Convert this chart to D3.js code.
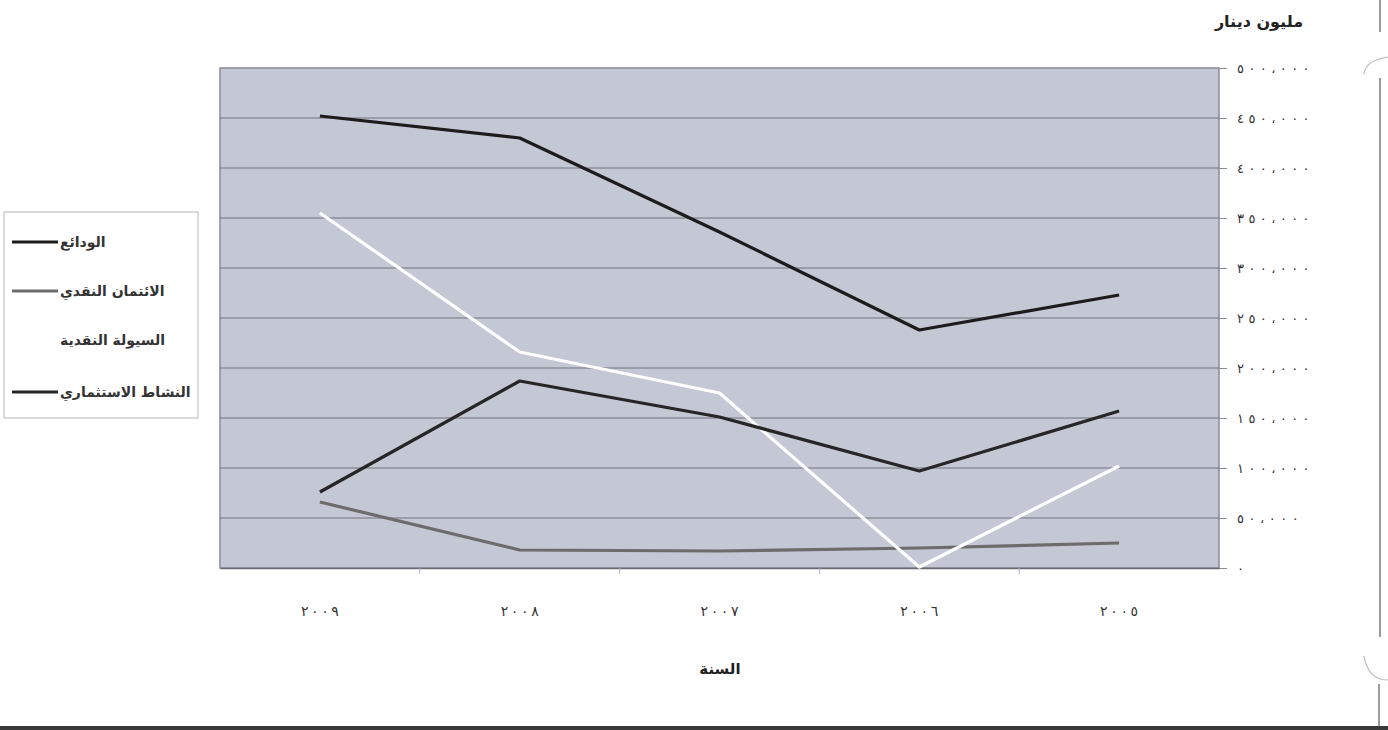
<!DOCTYPE html>
<html><head><meta charset="utf-8">
<script src="https://cdn.jsdelivr.net/npm/d3@7"></script>
<style>html,body{margin:0;padding:0;background:#fff;}svg{display:block;}</style>
</head><body>
<svg id="c" width="1388" height="730"></svg>
<script>
const years = [2009, 2008, 2007, 2006, 2005];
const seriesNames = ["الودائع", "الائتمان النقدي", "السيولة النقدية", "النشاط الاستثماري"];
const deposits = [452000, 430000, 336000, 238000, 273000];
const credit = [66000, 18000, 17000, 20000, 25000];
const liquidity = [355000, 216000, 175000, 1000, 102000];
const investment = [76000, 187000, 151000, 97000, 157000];
const yTicks = [0, 50000, 100000, 150000, 200000, 250000, 300000, 350000, 400000, 450000, 500000];
const yTitle = "مليون دينار";
const xTitle = "السنة";

const colors = ["#1c1c1c", "#6c6c6c", "#ffffff", "#262626"];
const allSeries = [deposits, credit, liquidity, investment];

const svg = d3.select("#c");
const L = 220, R = 1219, T = 68, B = 568;

const loc = d3.formatLocale({decimal: "٫", thousands: "،", grouping: [3], currency: ["", ""],
  numerals: ["٠","١","٢","٣","٤","٥","٦","٧","٨","٩"]});
const fmt = loc.format(",d");
const yearFmt = loc.format("d");

const x = d3.scaleBand().domain(years).range([L, R]);
const y = d3.scaleLinear().domain([0, 500000]).range([B, T]);

// scan artifacts on the right edge
const art = svg.append("g").attr("fill", "none").attr("stroke", "#9a9aa2").attr("stroke-width", 2);
art.append("path").attr("d", "M1380,0 L1380,32");
art.append("path").attr("d", "M1364,74 Q1366,60 1388,57").attr("stroke-width", 1.2).attr("stroke", "#b8b8c0");
art.append("path").attr("d", "M1380,78 L1380,637");
art.append("path").attr("d", "M1364,656 Q1368,680 1388,680").attr("stroke-width", 1.2).attr("stroke", "#b8b8c0");
art.append("path").attr("d", "M1379,684 L1379,726");
svg.append("rect").attr("x", 0).attr("y", 726).attr("width", 1388).attr("height", 4).attr("fill", "#3a3a3a");

// plot background
svg.append("rect").attr("x", L).attr("y", T).attr("width", R - L).attr("height", B - T)
  .attr("fill", "#c4c7d4").attr("stroke", "#8a8c94").attr("stroke-width", 1.5);

// gridlines
svg.append("g").selectAll("line").data(yTicks.slice(1, -1)).join("line")
  .attr("x1", L).attr("x2", R).attr("y1", d => y(d)).attr("y2", d => y(d))
  .attr("stroke", "#70747e").attr("stroke-width", 1);

// y axis on right
const yAxis = d3.axisRight(y).tickValues(yTicks).tickFormat(fmt).tickSize(8).tickPadding(10);
const ya = svg.append("g").attr("transform", `translate(${R},0)`).call(yAxis);
ya.select(".domain").remove();
ya.selectAll(".tick line").attr("stroke", "#8a8c94");
ya.selectAll(".tick text").attr("font-family", "DejaVu Sans, sans-serif").attr("font-size", 13)
  .attr("fill", "#333")
  .each(function(d) {
    const s = fmt(d);
    if (s.length > 1) d3.select(this).attr("textLength", s.length * 10.8 - 3).attr("lengthAdjust", "spacing");
  });

// x axis
const xAxis = d3.axisBottom(x).tickFormat(yearFmt).tickSize(0).tickPadding(38);
const xa = svg.append("g").attr("transform", `translate(0,${B})`).call(xAxis);
xa.select(".domain").attr("stroke", "#6a6c74").attr("stroke-width", 1.5);
xa.selectAll(".tick text").attr("font-family", "DejaVu Sans, sans-serif").attr("font-size", 14)
  .attr("fill", "#333").attr("textLength", 38).attr("lengthAdjust", "spacing");
// category boundary ticks
svg.append("g").selectAll("line").data(years.slice(1)).join("line")
  .attr("x1", d => x(d)).attr("x2", d => x(d)).attr("y1", B).attr("y2", B + 6)
  .attr("stroke", "#b0b2b8").attr("stroke-width", 1);

// lines
const line = d3.line().x((d, i) => x(years[i]) + x.bandwidth() / 2).y(d => y(d));
allSeries.forEach((s, k) => {
  svg.append("path").datum(s).attr("d", line).attr("fill", "none")
    .attr("stroke", colors[k]).attr("stroke-width", 3.2).attr("stroke-linejoin", "round");
});

// titles
svg.append("text").attr("x", 1259).attr("y", 27).attr("text-anchor", "middle")
  .attr("font-family", "DejaVu Sans, sans-serif").attr("font-weight", "bold").attr("font-size", 16)
  .attr("fill", "#222").text(yTitle);
svg.append("text").attr("x", 720).attr("y", 674).attr("text-anchor", "middle")
  .attr("font-family", "DejaVu Sans, sans-serif").attr("font-weight", "bold").attr("font-size", 15)
  .attr("fill", "#222").text(xTitle);

// legend
const lg = svg.append("g");
lg.append("rect").attr("x", 4).attr("y", 212).attr("width", 194).attr("height", 206)
  .attr("fill", "#fff").attr("stroke", "#b8b8b8").attr("stroke-width", 1);
const ly = [242, 291, 340, 392];
seriesNames.forEach((n, k) => {
  lg.append("line").attr("x1", 12).attr("x2", 58).attr("y1", ly[k]).attr("y2", ly[k])
    .attr("stroke", colors[k]).attr("stroke-width", 3.2);
  lg.append("text").attr("x", 60).attr("y", ly[k] + 5).attr("text-anchor", "start")
    .attr("font-family", "DejaVu Sans, sans-serif").attr("font-size", 14).attr("font-weight", "bold")
    .attr("fill", "#333").text(n);
});
</script>
</body></html>
